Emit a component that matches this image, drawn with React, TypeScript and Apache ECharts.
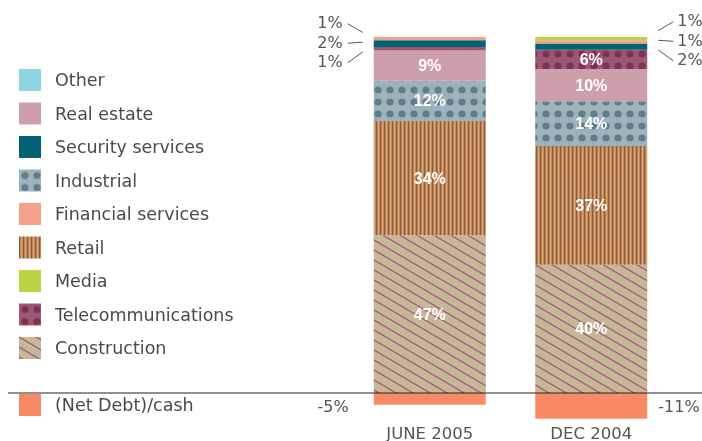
import React, { useEffect, useRef } from "react";
import * as echarts from "echarts";

// ---------- data ----------
const categories = ["JUNE 2005", "DEC 2004"];
const construction = [47, 40];
const retail = [34, 37];
const industrial = [12, 14];
const realEstate = [9, 10];
const telecom = [1, 6];
const security = [2, 2];
const financial = [1, 1];
const media = [0, 1];
const other = [0, 0];
const netDebt = [-5, -11];
const legendOrder = [
  "Other",
  "Real estate",
  "Security services",
  "Industrial",
  "Financial services",
  "Retail",
  "Media",
  "Telecommunications",
  "Construction",
];
const netDebtName = "(Net Debt)/cash";

// ---------- layout ----------
const W = 702;
const H = 441;
const GRID_TOP = 37;
const GRID_BOTTOM = 20;
const BELOW_ZERO = 28;
const BAR_W = 112;

function tile(w: number, h: number, draw: (c: CanvasRenderingContext2D) => void) {
  const cv = document.createElement("canvas");
  cv.width = w;
  cv.height = h;
  const ctx = cv.getContext("2d") as CanvasRenderingContext2D;
  draw(ctx);
  return { image: cv, repeat: "repeat", imageWidth: w, imageHeight: h } as any;
}

export default function App() {
  const ref = useRef<HTMLDivElement>(null);
  useEffect(() => {
    if (!ref.current) return;
    const chart = echarts.init(ref.current, undefined, { renderer: "svg" });

    const retailPat = tile(4, 4, (c) => {
      const cols = ["#8e5b3c", "#b98356", "#d8a675", "#c08a5b"];
      cols.forEach((col, i) => {
        c.fillStyle = col;
        c.fillRect(i, 0, 1, 4);
      });
    });
    const constructionPat = tile(17, 10, (c) => {
      c.fillStyle = "#c6b895";
      c.fillRect(0, 0, 17, 10);
      c.strokeStyle = "#a4588a";
      c.lineWidth = 1.3;
      [-10, 0, 10].forEach((dy) => {
        c.beginPath();
        c.moveTo(-17, -10 + dy);
        c.lineTo(34, 20 + dy);
        c.stroke();
      });
    });
    const dots = (bg: string, fg: string) =>
      tile(12, 12, (c) => {
        c.fillStyle = bg;
        c.fillRect(0, 0, 12, 12);
        c.fillStyle = fg;
        c.beginPath();
        c.arc(6, 6, 3.6, 0, Math.PI * 2);
        c.fill();
      });
    const industrialPat = dots("#9db2bb", "#5f7e8a");
    const telecomPat = dots("#9d5673", "#7a3553");

    const stackDefs = [
      { name: "Construction", values: construction, fill: constructionPat },
      { name: "Retail", values: retail, fill: retailPat },
      { name: "Industrial", values: industrial, fill: industrialPat },
      { name: "Real estate", values: realEstate, fill: "#cd9fac" },
      { name: "Telecommunications", values: telecom, fill: telecomPat },
      { name: "Security services", values: security, fill: "#006275" },
      { name: "Financial services", values: financial, fill: "#f4a189" },
      { name: "Media", values: media, fill: "#bdd346" },
      { name: "Other", values: other, fill: "#8dd5e5" },
    ];
    const totals = categories.map((_, j) =>
      stackDefs.reduce((s, d) => s + d.values[j], 0)
    );

    const plotH = H - GRID_TOP - GRID_BOTTOM;
    const posH = plotH - BELOW_ZERO;
    const y0min = (-100 * BELOW_ZERO) / posH;
    const y1min = -12;
    const y1max = (12 * posH) / BELOW_ZERO;

    const series: any[] = stackDefs.map((d) => ({
      type: "bar",
      name: d.name,
      stack: "pos",
      yAxisIndex: 0,
      barWidth: BAR_W,
      barGap: "-100%",
      itemStyle: { color: d.fill },
      emphasis: { disabled: true },
      label: {
        show: true,
        position: "inside",
        color: "#ffffff",
        fontWeight: "bold",
        fontSize: 16,
        fontFamily: "Liberation Sans",
        formatter: (p: any) => {
          const raw = d.values[p.dataIndex];
          return raw >= 5 ? `${raw}%` : "";
        },
      },
      data: d.values.map((v, j) => (v / totals[j]) * 100),
    }));
    series.push({
      type: "bar",
      name: netDebtName,
      yAxisIndex: 1,
      barWidth: BAR_W,
      barGap: "-100%",
      itemStyle: { color: "#f78b66" },
      emphasis: { disabled: true },
      data: netDebt,
    });

    const legendText = {
      color: "#4a4a4a",
      fontSize: 17.5,
      fontFamily: "DejaVu Sans",
      padding: [0, 0, 0, 9],
    };

    chart.setOption({
      animation: false,
      grid: {
        left: 349,
        right: 30,
        top: GRID_TOP,
        bottom: GRID_BOTTOM,
        containLabel: false,
        outerBoundsMode: "none",
      },
      xAxis: {
        type: "category",
        data: categories,
        axisLine: { show: false, onZero: false },
        axisTick: { show: false },
        axisLabel: {
          color: "#555",
          fontSize: 16.5,
          lineHeight: 16,
          fontFamily: "DejaVu Sans",
          margin: 4,
        },
      },
      yAxis: [
        { type: "value", min: y0min, max: 100, show: false },
        { type: "value", min: y1min, max: y1max, show: false },
      ],
      legend: [
        {
          data: legendOrder,
          orient: "vertical",
          left: 19,
          top: 69,
          padding: 0,
          itemWidth: 22,
          itemHeight: 22,
          itemGap: 11.5,
          icon: "rect",
          selectedMode: false,
          textStyle: legendText,
        },
        {
          data: [netDebtName],
          orient: "vertical",
          left: 19,
          top: 394,
          padding: 0,
          itemWidth: 22,
          itemHeight: 22,
          icon: "rect",
          selectedMode: false,
          textStyle: legendText,
        },
      ],
      series,
    });

    // ----- outside labels, leader lines and baseline -----
    const zeroY = chart.convertToPixel({ yAxisIndex: 0 }, 0) as number;
    const gfx: any[] = [
      {
        type: "line",
        z: 100,
        shape: { x1: 8, y1: zeroY, x2: W, y2: zeroY },
        style: { stroke: "#222", lineWidth: 1.2 },
      },
    ];
    const txt = (text: string, x: number, y: number, align: string) => ({
      type: "text",
      z: 100,
      style: {
        text,
        x,
        y,
        align,
        verticalAlign: "middle",
        fill: "#555",
        fontSize: 16,
        fontFamily: "DejaVu Sans",
      },
    });
    categories.forEach((cat, j) => {
      const cx = chart.convertToPixel({ xAxisIndex: 0 }, cat) as number;
      const left = cx - BAR_W / 2;
      const right = cx + BAR_W / 2;
      let cum = 0;
      const small: { text: string; y: number }[] = [];
      stackDefs.forEach((d) => {
        const v = (d.values[j] / totals[j]) * 100;
        const a = cum;
        cum += v;
        if (d.values[j] > 0 && d.values[j] < 5) {
          const y = chart.convertToPixel({ yAxisIndex: 0 }, (a + cum) / 2) as number;
          small.push({ text: `${d.values[j]}%`, y });
        }
      });
      small.reverse();
      if (small.length) {
        const mid = Math.floor(small.length / 2);
        const midY = small[mid].y - 1.5;
        small.forEach((s, k) => {
          const ly = midY + (k - mid) * 19.5;
          const endY = ly + (midY - ly) / 2;
          if (j === 0) {
            gfx.push(txt(s.text, left - 31, ly, "right"));
            gfx.push({
              type: "line",
              z: 100,
              shape: { x1: left - 26, y1: ly + 1, x2: left - 11, y2: endY },
              style: { stroke: "#555", lineWidth: 1 },
            });
          } else {
            gfx.push(txt(s.text, right + 30, ly, "left"));
            gfx.push({
              type: "line",
              z: 100,
              shape: { x1: right + 11, y1: endY, x2: right + 26, y2: ly + 1 },
              style: { stroke: "#555", lineWidth: 1 },
            });
          }
        });
      }
      const nd = `${netDebt[j]}%`;
      if (j === 0) gfx.push(txt(nd, left - 25, zeroY + 13, "right"));
      else gfx.push(txt(nd, right + 11, zeroY + 13, "left"));
    });
    chart.setOption({ graphic: gfx });

    return () => chart.dispose();
  }, []);
  return (
    <div
      ref={ref}
      style={{ position: "fixed", left: 0, top: 0, width: W, height: H }}
    />
  );
}
